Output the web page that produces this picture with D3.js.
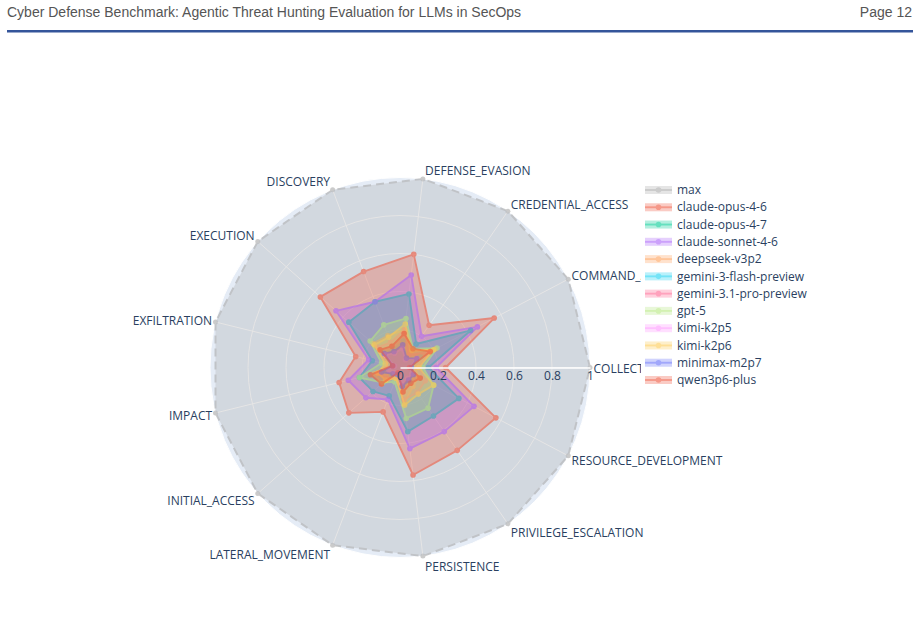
<!DOCTYPE html>
<html>
<head>
<meta charset="utf-8">
<script src="https://cdn.jsdelivr.net/npm/d3@7"></script>
<style>
  html, body { margin: 0; padding: 0; background: #ffffff; }
  svg { display: block; }
</style>
</head>
<body>
<svg id="chart" width="920" height="635"></svg>
<script>
// ---------------- DATA ----------------
const headerTitle = "Cyber Defense Benchmark: Agentic Threat Hunting Evaluation for LLMs in SecOps";
const pageLabel = "Page 12";

const categories = [
  "COLLECTION", "COMMAND_AND_CONTROL", "CREDENTIAL_ACCESS", "DEFENSE_EVASION",
  "DISCOVERY", "EXECUTION", "EXFILTRATION", "IMPACT", "INITIAL_ACCESS",
  "LATERAL_MOVEMENT", "PERSISTENCE", "PRIVILEGE_ESCALATION", "RESOURCE_DEVELOPMENT"
];

const radialTicks = [0, 0.2, 0.4, 0.6, 0.8, 1];
const radialTickLabels = ["0", "0.2", "0.4", "0.6", "0.8", "1"];

const seriesNames = [
  "max", "claude-opus-4-6", "claude-opus-4-7", "claude-sonnet-4-6", "deepseek-v3p2",
  "gemini-3-flash-preview", "gemini-3.1-pro-preview", "gpt-5", "kimi-k2p5",
  "kimi-k2p6", "minimax-m2p7", "qwen3p6-plus"
];
const seriesColors = [
  "#a9a9a9", "#EF553B", "#00cc96", "#ab63fa", "#FFA15A",
  "#19d3f3", "#FF6692", "#B6E880", "#FF97FF", "#FECB52", "#636efa", "#EF553B"
];

// values in category order
const maxValues           = [1, 1, 1, 1, 1, 1, 1, 1, 1, 1, 1, 1, 1];
const claudeOpus46        = [0.24, 0.56, 0.27, 0.60, 0.54, 0.56, 0.24, 0.33, 0.36, 0.25, 0.57, 0.53, 0.57];
const claudeOpus47        = [0.15, 0.42, 0.15, 0.39, 0.37, 0.36, 0.15, 0.22, 0.19, 0.16, 0.34, 0.31, 0.35];
const claudeSonnet46      = [0.19, 0.46, 0.20, 0.49, 0.37, 0.45, 0.17, 0.28, 0.24, 0.18, 0.43, 0.41, 0.44];
const deepseekV3p2        = [0.08, 0.21, 0.10, 0.20, 0.18, 0.19, 0.06, 0.14, 0.13, 0.05, 0.19, 0.12, 0.11];
const gemini3Flash        = [0.06, 0.12, 0.06, 0.14, 0.10, 0.12, 0.05, 0.08, 0.06, 0.04, 0.10, 0.09, 0.08];
const gemini31Pro         = [0.10, 0.17, 0.08, 0.20, 0.14, 0.16, 0.06, 0.12, 0.09, 0.06, 0.17, 0.16, 0.15];
const gpt5                = [0.12, 0.22, 0.12, 0.26, 0.24, 0.21, 0.10, 0.22, 0.12, 0.08, 0.27, 0.26, 0.20];
const kimiK2p5            = [0.05, 0.10, 0.05, 0.10, 0.08, 0.10, 0.03, 0.06, 0.04, 0.03, 0.08, 0.07, 0.07];
const kimiK2p6            = [0.10, 0.20, 0.11, 0.23, 0.17, 0.18, 0.08, 0.12, 0.10, 0.06, 0.20, 0.17, 0.20];
const minimaxM2p7         = [0.06, 0.10, 0.06, 0.12, 0.09, 0.11, 0.04, 0.10, 0.05, 0.04, 0.10, 0.08, 0.08];
const qwen3p6Plus         = [0.05, 0.18, 0.12, 0.18, 0.12, 0.14, 0.04, 0.16, 0.13, 0.03, 0.13, 0.10, 0.12];

const seriesValues = [
  maxValues, claudeOpus46, claudeOpus47, claudeSonnet46, deepseekV3p2, gemini3Flash,
  gemini31Pro, gpt5, kimiK2p5, kimiK2p6, minimaxM2p7, qwen3p6Plus
];

// ---------------- LAYOUT ----------------
const svg = d3.select("#chart");
const cx = 400, cy = 367.5, R = 190;
const plotFont = "'Open Sans', verdana, arial, sans-serif";
const fontColor = "#2a3f5f";
const legendBox = { x: 641, y: 180, w: 200, h: 210 };

// header
svg.append("text")
  .attr("x", 7).attr("y", 17)
  .attr("font-family", "'Liberation Sans', Arial, sans-serif")
  .attr("font-size", 14).attr("fill", "#555")
  .text(headerTitle);
svg.append("text")
  .attr("x", 912).attr("y", 17).attr("text-anchor", "end")
  .attr("font-family", "'Liberation Sans', Arial, sans-serif")
  .attr("font-size", 14).attr("fill", "#555")
  .text(pageLabel);
svg.append("rect")
  .attr("x", 7).attr("y", 30).attr("width", 906).attr("height", 2.5)
  .attr("fill", "#34559a");

// clip: everything except the legend box (labels are hidden under the legend)
svg.append("defs").append("clipPath").attr("id", "labelClip")
  .append("path")
  .attr("clip-rule", "evenodd")
  .attr("d", `M0,0H920V635H0Z M${legendBox.x},${legendBox.y}h${legendBox.w}v${legendBox.h}h${-legendBox.w}Z`);

// scales
const r = d3.scaleLinear().domain([0, 1]).range([0, R]);
const angle = d3.scaleLinear().domain([0, categories.length])
  .range([Math.PI / 2, Math.PI / 2 - 2 * Math.PI]); // d3 radial angle (clockwise from 12 o'clock)

const px = (i, v) => cx + r(v) * Math.sin(angle(i));
const py = (i, v) => cy - r(v) * Math.cos(angle(i));

const polar = svg.append("g");

// background
polar.append("circle").attr("cx", cx).attr("cy", cy).attr("r", R).attr("fill", "#E5ECF6");

// radial grid circles
polar.append("g").selectAll("circle")
  .data(radialTicks.filter(d => d > 0))
  .join("circle")
  .attr("cx", cx).attr("cy", cy).attr("r", d => r(d))
  .attr("fill", "none").attr("stroke", "#ffffff").attr("stroke-width", 1);

// angular spokes
polar.append("g").selectAll("line")
  .data(categories)
  .join("line")
  .attr("x1", cx).attr("y1", cy)
  .attr("x2", (d, i) => px(i, 1)).attr("y2", (d, i) => py(i, 1))
  .attr("stroke", "#ffffff").attr("stroke-width", 1);

// traces
const radial = d3.lineRadial()
  .angle((d, i) => angle(i))
  .radius(d => r(d))
  .curve(d3.curveLinearClosed);

const traces = polar.append("g").attr("transform", `translate(${cx},${cy})`);
seriesValues.forEach((vals, s) => {
  const color = seriesColors[s];
  const g = traces.append("g").attr("opacity", 0.6);
  const isMax = s === 0;
  g.append("path")
    .attr("d", radial(vals))
    .attr("fill", color).attr("fill-opacity", 0.5)
    .attr("stroke", color).attr("stroke-width", isMax ? 2 : 1.9)
    .attr("stroke-dasharray", isMax ? "8,5" : null)
    .attr("stroke-linejoin", "round");
  g.selectAll("circle")
    .data(vals)
    .join("circle")
    .attr("cx", (d, i) => r(d) * Math.sin(angle(i)))
    .attr("cy", (d, i) => -r(d) * Math.cos(angle(i)))
    .attr("r", isMax ? 2.5 : 2.8)
    .attr("fill", color);
});

// radial axis (above traces)
const radialAxis = d3.axisBottom(r)
  .tickValues(radialTicks)
  .tickFormat((d, i) => radialTickLabels[i])
  .tickSize(0).tickSizeOuter(0).tickPadding(4);
const ra = svg.append("g").attr("transform", `translate(${cx},${cy})`).call(radialAxis);
ra.select(".domain").attr("stroke", "#ffffff").attr("stroke-width", 1.5);
ra.selectAll("text")
  .attr("font-family", plotFont).attr("font-size", 12).attr("fill", fontColor);

// angular labels
svg.append("g").attr("clip-path", "url(#labelClip)").selectAll("text")
  .data(categories)
  .join("text")
  .attr("x", (d, i) => {
    const c = Math.sin(angle(i));
    const vx = px(i, 1);
    return vx + (c > 0.05 ? 2 : c < -0.05 ? -2 : 0) + c * 1.5;
  })
  .attr("y", (d, i) => py(i, 1) - Math.cos(angle(i)) * 9.5 + 1)
  .attr("dy", "0.35em")
  .attr("text-anchor", (d, i) => {
    const c = Math.sin(angle(i));
    return c > 0.05 ? "start" : c < -0.05 ? "end" : "middle";
  })
  .attr("font-family", plotFont).attr("font-size", 12).attr("fill", fontColor)
  .text(d => d);

// legend
const legend = svg.append("g");
legend.append("rect").attr("x", legendBox.x).attr("y", legendBox.y)
  .attr("width", legendBox.w).attr("height", legendBox.h).attr("fill", "#ffffff");
const rowY = d3.scaleLinear().domain([0, seriesNames.length - 1]).range([190, 380]);
seriesNames.forEach((name, s) => {
  const y = rowY(s);
  const color = seriesColors[s];
  const g = legend.append("g").attr("opacity", 0.6);
  g.append("rect").attr("x", 645).attr("y", y - 4).attr("width", 27).attr("height", 8)
    .attr("fill", color).attr("fill-opacity", 0.5);
  g.append("line").attr("x1", 645).attr("x2", 672).attr("y1", y).attr("y2", y)
    .attr("stroke", color).attr("stroke-width", 1.9);
  g.append("circle").attr("cx", 658.5).attr("cy", y).attr("r", 2.8).attr("fill", color);
  legend.append("text").attr("x", 677).attr("y", y).attr("dy", "0.35em")
    .attr("font-family", plotFont).attr("font-size", 12).attr("fill", fontColor)
    .text(name);
});
</script>
</body>
</html>
